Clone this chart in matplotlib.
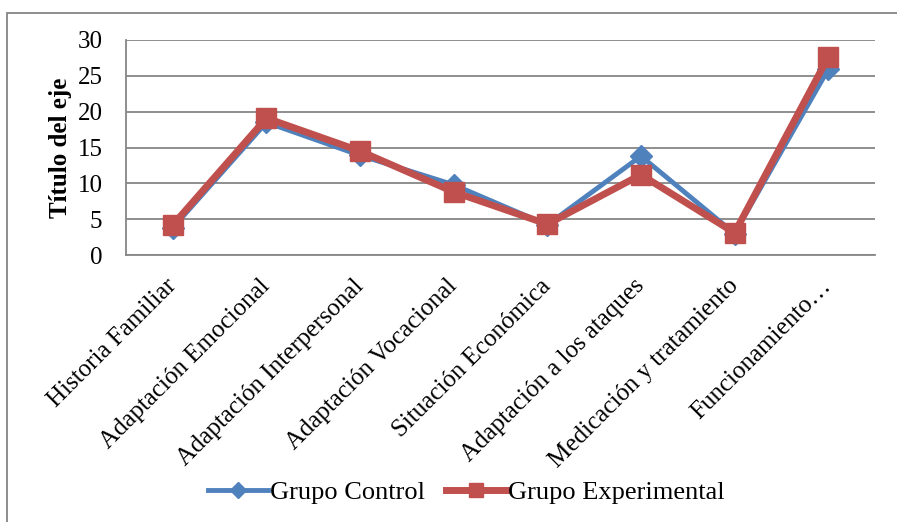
import matplotlib.pyplot as plt
from matplotlib.patches import Rectangle

plt.rcParams['font.family'] = ['Liberation Serif', 'DejaVu Serif']

# Areas evaluated and mean scores per group
categorias = ['Historia Familiar', 'Adaptación Emocional', 'Adaptación Interpersonal',
              'Adaptación Vocacional', 'Situación Económica', 'Adaptación a los ataques',
              'Medicación y tratamiento', 'Funcionamiento…']
grupo_control = [3.8, 18.5, 13.9, 9.8, 4.2, 13.8, 3.0, 25.9]
grupo_experimental = [4.2, 19.1, 14.5, 8.8, 4.3, 11.2, 3.1, 27.6]
y_ticks = [0, 5, 10, 15, 20, 25, 30]

azul = '#4F81BD'
rojo = '#C0504D'
gris = '#868686'

fig = plt.figure(figsize=(8.97, 5.22), dpi=100)
ax = fig.add_axes([126 / 897, 1 - 255 / 522, 749 / 897, 215 / 522])

x = list(range(len(categorias)))
ax.plot(x, grupo_control, color=azul, lw=3.5, marker='D', ms=11,
        label='Grupo Control', zorder=3)
ax.plot(x, grupo_experimental, color=rojo, lw=5, marker='s', ms=14,
        label='Grupo Experimental', zorder=4)

ax.set_xlim(-0.5, len(categorias) - 0.5)
ax.set_ylim(0, 30)
ax.set_yticks(y_ticks)
ax.set_xticks(x)
ax.set_xticklabels(categorias, rotation=45, ha='right', va='center',
                   rotation_mode='anchor')
ax.tick_params(axis='both', length=0, labelsize=18)
ax.tick_params(axis='y', pad=17)
ax.tick_params(axis='x', pad=20)

ax.grid(axis='y', color=gris, lw=1.3)
ax.set_axisbelow(True)
for lado in ['top', 'right']:
    ax.spines[lado].set_visible(False)
for lado in ['left', 'bottom']:
    ax.spines[lado].set_color(gris)
    ax.spines[lado].set_linewidth(1.3)

ax.set_ylabel('Título del eje', fontsize=18, fontweight='bold', labelpad=4)

fig.legend(loc='center', bbox_to_anchor=(466 / 897, 30 / 522), ncol=2,
           frameon=False, fontsize=19, handlelength=2.3, handletextpad=0.05,
           columnspacing=0.8, borderaxespad=0, markerscale=0.75)

# chart frame
fig.patches.append(Rectangle((7 / 897, -0.1), 1.2, 0.1 + (522 - 13) / 522,
                             transform=fig.transFigure, fill=False,
                             edgecolor=gris, lw=1.3))

fig.savefig('out.png', dpi=100)
